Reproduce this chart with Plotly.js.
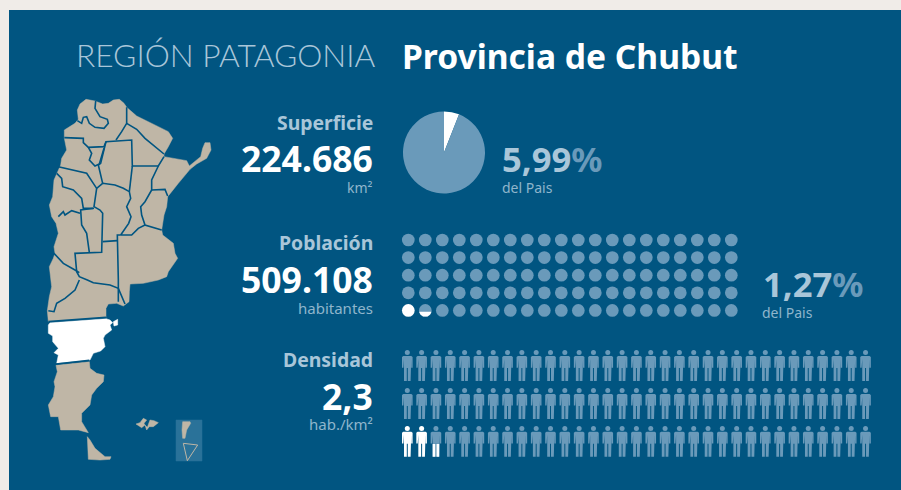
<!DOCTYPE html>
<html><head><meta charset="utf-8">
<script src="https://cdn.plot.ly/plotly-3.0.1.min.js"></script>
<style>html,body{margin:0;padding:0;background:#f0ece8}#c{width:901px;height:490px}</style>
</head><body><div id="c"></div>
<script>
// ---- values
const superficie = "224.686", poblacion = "509.108", densidad = "2,3";
const pieValues = [5.99, 94.01];
const dotCols = 20, dotRows = 5, dotWhole = 1;
const personCols = 33, personRows = 3, personWhole = 2;
// ---- map outlines (x,y pairs in map units)
const mainland = [142,60,150,42,168,28,195,33,218,42,235,40,250,30,268,28,282,40,290,52,320,78,350,92,385,110,415,125,428,145,415,170,402,192,402,200,440,208,470,212,478,228,495,215,512,200,518,175,525,158,540,158,543,180,530,205,500,222,480,238,465,255,445,280,425,305,413,320,410,350,402,375,395,420,398,435,430,460,435,490,443,505,430,525,415,545,410,560,385,570,340,580,300,582,298,605,297,635,280,648,260,640,235,642,228,655,228,682,55,695,52,662,58,620,65,590,62,570,58,530,70,505,75,490,72,470,85,430,78,400,65,380,58,345,68,320,72,270,80,250,92,225,95,205,110,180,103,145,103,120,135,100,145,88];
const chubut = [55,705,60,698,228,686,240,690,248,698,240,705,245,720,225,735,220,745,222,755,225,770,212,783,190,790,180,810,80,820,85,795,72,788,85,775,68,755,68,738,55,730];
const chubutIsle = [250,695,263,688,263,705,252,708];
const santaCruz = [78,826,178,815,180,835,200,850,222,855,220,875,200,895,185,915,180,945,155,970,155,995,175,1028,145,1020,92,1020,85,980,62,980,55,945,70,920,75,890,72,875,82,845];
const fuego = [172,1040,180,1050,195,1075,225,1100,243,1100,240,1108,210,1110,175,1108];
const falkW = [318,1002,330,998,340,985,350,990,342,1000,345,1005,335,1013,325,1008];
const falkE = [345,1005,352,1012,360,990,372,992,385,998,370,1010,358,1010,350,1020];
const insetBox = [438,990,516,990,516,1113,438,1113];
const insetArg = [458,995,480,995,482,1000,470,1020,465,1045,458,1045,456,1020];
const insetAnt = [460,1060,503,1065,472,1112,460,1060];
const borders = [
 [197,33,195,55,210,80,232,88,235,100,222,115,195,112,178,100,170,80,160,82,155,100,142,92],
 [290,52,290,100,275,125,258,150],
 [290,100,320,118,345,145,375,170,402,192],
 [103,143,160,145,160,158,175,172,222,170,228,155,305,150,307,228,385,228,402,200],
 [175,172,185,190,178,210,195,228,208,222,215,200,222,175],
 [228,155,212,220,205,225,218,280],
 [307,228,298,290,298,305],
 [385,228,365,270,365,300,345,335,332,350,335,375,345,405,395,420],
 [365,300,405,298,413,318],
 [85,230,105,235,150,245,170,250,190,280,200,295,218,280,255,285,280,295,298,305,302,325,290,350,303,380,296,400,272,435,305,435,325,415,345,405],
 [200,295,192,350,210,360,218,370,215,487,135,490,140,545,148,560,172,570,190,578,240,585,265,595,285,642],
 [80,250,95,265,98,290,130,300,155,325,160,355,190,355],
 [192,355,152,360,155,405,170,430,178,487],
 [85,380,100,365,105,375,125,362,150,370],
 [72,490,100,520,135,540,148,548],
 [218,455,262,452],
 [272,435,262,435,265,570,265,635],
 [148,570,135,600,105,625,80,640,72,665,55,662],
 [55,695,228,682],
 [78,822,178,811]
];
// ---- label text
const titleLeft = "REGIÓN PATAGONIA", titleRight = "Provincia de Chubut";
const headers = ["Superficie","Población","Densidad"];
const units = ["km²","habitantes","hab./km²"];
const numbers = [superficie, poblacion, densidad];
const sharePct = ["5,99","1,27"], shareLabel = "del Pais";

// ---- palette
const PANEL="#015581", PAGE="#f0ece8", TINT="#6a9aba", LIGHT="#a9c6d9", UNIT="#8fb5cc", TAN="#bfb6a6", WHITE="#ffffff";
const px=(a,i)=>a.filter((_,k)=>k%2==i);
const closed=a=>a.concat(a[0]);
const poly=(a,color,extra)=>Object.assign({type:"scatter",xaxis:"x2",yaxis:"y2",mode:"lines",x:closed(px(a,0)),y:closed(px(a,1)),fill:"toself",fillcolor:color,line:{width:0.5,color:color},hoverinfo:"skip"},extra||{});

const traces=[];
// map
traces.push(poly(insetBox,"#2a7299"));
traces.push(poly(insetArg,TAN));
traces.push({type:"scatter",xaxis:"x2",yaxis:"y2",mode:"lines",x:px(insetAnt,0),y:px(insetAnt,1),line:{color:TAN,width:1},hoverinfo:"skip"});
traces.push(poly(mainland,TAN));
traces.push(poly(santaCruz,TAN));
traces.push(poly(fuego,TAN));
traces.push(poly(falkW,TAN));
traces.push(poly(falkE,TAN));
traces.push(poly(chubut,WHITE));
traces.push(poly(chubutIsle,WHITE));
borders.forEach(b=>traces.push({type:"scatter",xaxis:"x2",yaxis:"y2",mode:"lines",x:px(b,0),y:px(b,1),line:{color:PANEL,width:1.6},hoverinfo:"skip"}));

// pie
const PW=892,PH=480;
traces.push({type:"pie",values:pieValues,sort:false,direction:"clockwise",rotation:0,textinfo:"none",hoverinfo:"skip",showlegend:false,
 marker:{colors:[WHITE,TINT],line:{width:0}},
 domain:{x:[(403-9)/PW,(485-9)/PW],y:[1-(193.5-10)/PH,1-(111.5-10)/PH]}});

// dots
const dX=408.3,dDX=17,dY=240,dDY=17.6,dS=12.7;
const dx=[],dy=[],dc=[];
for(let r=0;r<dotRows;r++)for(let c=0;c<dotCols;c++){dx.push(dX+c*dDX);dy.push(dY+r*dDY);dc.push((r==dotRows-1&&c<dotWhole)?WHITE:TINT);}
traces.push({type:"scatter",mode:"markers",x:dx,y:dy,marker:{size:dS,color:dc,line:{width:0}},hoverinfo:"skip"});
// part-filled dot
(function(){const R=dS/2,cx=dX+dotWhole*dDX,cy=dY+(dotRows-1)*dDY,cover=0.4;
 const a0=Math.asin(1-2*cover),xs=[],ys=[];
 for(let i=0;i<=24;i++){const a=a0+(Math.PI-2*a0)*i/24;xs.push(cx+R*Math.cos(a));ys.push(cy+R*Math.sin(a));}
 traces.push({type:"scatter",mode:"lines",x:xs.concat(xs[0]),y:ys.concat(ys[0]),fill:"toself",fillcolor:WHITE,line:{width:0,color:WHITE},hoverinfo:"skip"});
})();

// people
const pX=407.3,pDX=14.32,pY=350,pDY=37.9;
const figure=[-4,6,4,6,5.3,7,5.3,17.7,3.9,17.7,3.9,9,3.3,9,3.3,31,0.5,31,0.5,18,-0.5,18,-0.5,31,-3.3,31,-3.3,9,-3.9,9,-3.9,17.7,-5.3,17.7,-5.3,7];
const legL=[-3.3,18.3,-0.5,18.3,-0.5,31,-3.3,31], legR=[0.5,18.3,3.3,18.3,3.3,31,0.5,31];
function addOutline(bag,o,cx,cy){const xs=px(o,0),ys=px(o,1);xs.forEach((v,i)=>{bag.x.push(cx+v);bag.y.push(cy+ys[i]);});bag.x.push(cx+xs[0],null);bag.y.push(cy+ys[0],null);}
const tint={x:[],y:[]},white={x:[],y:[]},hx=[],hy=[],hc=[];
for(let r=0;r<personRows;r++)for(let c=0;c<personCols;c++){
 const cx=pX+c*pDX,cy=pY+r*pDY,isW=r==personRows-1&&c<personWhole;
 addOutline(isW?white:tint,figure,cx,cy);
 hx.push(cx);hy.push(cy+2.6);hc.push(isW?WHITE:TINT);
 if(r==personRows-1&&c==personWhole){addOutline(white,legL,cx,cy);addOutline(white,legR,cx,cy);}
}
const order=[tint,white];
order.forEach((b,i)=>traces.push({type:"scatter",mode:"lines",x:b.x,y:b.y,fill:"toself",fillcolor:i?WHITE:TINT,line:{width:0,color:i?WHITE:TINT},connectgaps:false,hoverinfo:"skip"}));
traces.push({type:"scatter",mode:"markers",x:hx,y:hy,marker:{size:5,color:hc,line:{width:0}},hoverinfo:"skip"});

// text
const F="'Noto Sans', 'Open Sans', sans-serif", FL="Lato, sans-serif";
function T(text,x,y,size,color,anchor,weight,fam){return {text,x,y,xref:"x",yref:"y",xanchor:anchor||"right",yanchor:"middle",showarrow:false,borderpad:0,borderwidth:0,font:{family:fam||F,size,color,weight:weight||400}};}
const ann=[
 T(titleLeft,376,55,31.7,LIGHT,"right",300,FL),
 T(titleRight,402,56,33.6,WHITE,"left",700),
 T(headers[0],373,122,19.4,LIGHT,"right",700),
 T(numbers[0],373,158,35.5,WHITE,"right",700),
 T(units[0],373,187,14,UNIT),
 T(headers[1],373,242,19.4,LIGHT,"right",700),
 T(numbers[1],373,279,35.5,WHITE,"right",700),
 T(units[1],373,308,15,UNIT),
 T(headers[2],373,359,19.4,LIGHT,"right",700),
 T(numbers[2],373,396,35.5,WHITE,"right",700),
 T(units[2],373,424,15,UNIT),
 T(sharePct[0]+'<span style="color:'+TINT+'">%</span>',502,158,34.6,LIGHT,"left",700),
 T(shareLabel,502,187,14,UNIT,"left"),
 T(sharePct[1]+'<span style="color:'+TINT+'">%</span>',763,283,34.6,LIGHT,"left",700),
 T(shareLabel,762,312,14,UNIT,"left")
];
const hid={visible:false,fixedrange:true};
const layout={width:901,height:490,margin:{l:9,r:0,t:10,b:0,pad:0},paper_bgcolor:PAGE,plot_bgcolor:PANEL,showlegend:false,
 xaxis:Object.assign({range:[9,901]},hid),yaxis:Object.assign({range:[490,10]},hid),
 xaxis2:Object.assign({range:[-63,2613],overlaying:"x"},hid),yaxis2:Object.assign({range:[1200,-240],overlaying:"y"},hid),
 annotations:ann};
Plotly.newPlot("c",traces,layout,{staticPlot:true,displayModeBar:false});
</script></body></html>
